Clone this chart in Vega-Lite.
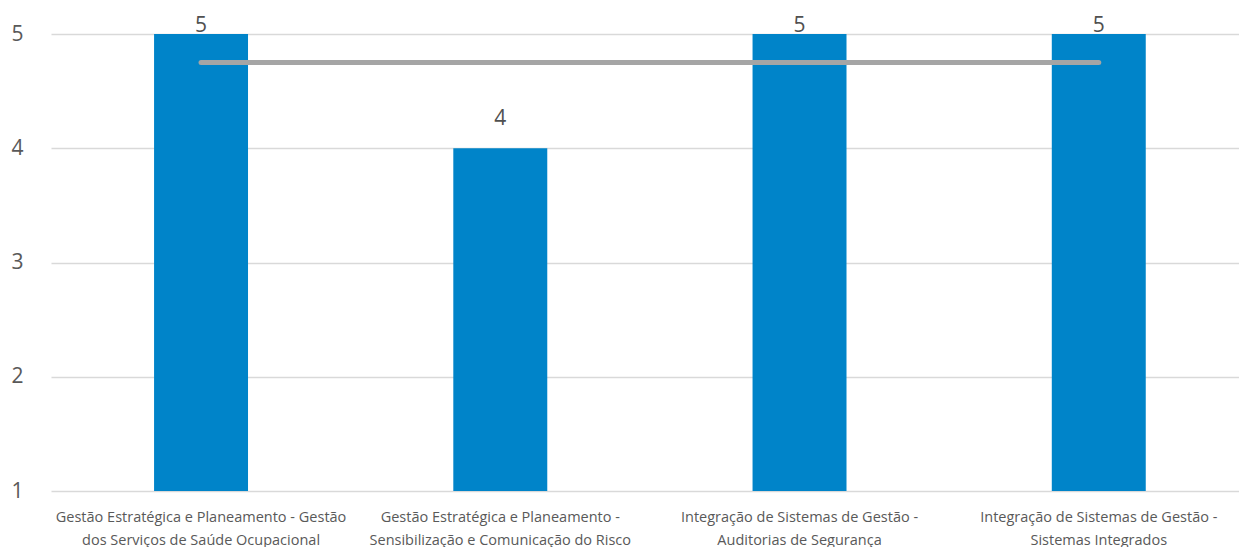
{
  "$schema": "https://vega.github.io/schema/vega-lite/v6.json",
  "width": 1188,
  "height": 457,
  "autosize": {"type": "none"},
  "padding": {"left": 51, "top": 34, "right": 0, "bottom": 56},
  "background": "white",
  "config": {
    "view": {"stroke": null},
    "font": "Open Sans",
    "text": {"font": "Open Sans"}
  },
  "data": {
    "values": [
      {"cat": "Gestão Estratégica e Planeamento - Gestão|dos Serviços de Saúde Ocupacional", "score": 5, "average": 4.75},
      {"cat": "Gestão Estratégica e Planeamento -|Sensibilização e Comunicação do Risco", "score": 4, "average": 4.75},
      {"cat": "Integração de Sistemas de Gestão -|Auditorias de Segurança", "score": 5, "average": 4.75},
      {"cat": "Integração de Sistemas de Gestão -|Sistemas Integrados", "score": 5, "average": 4.75}
    ]
  },
  "encoding": {
    "x": {
      "field": "cat",
      "type": "nominal",
      "sort": null,
      "scale": {"paddingInner": 0.686, "paddingOuter": 0.328, "align": 0.525},
      "axis": {
        "title": null,
        "labelAngle": 0,
        "labelExpr": "split(datum.label, '|')",
        "labelFont": "Open Sans",
        "labelFontSize": 14.5,
        "labelColor": "#595959",
        "labelLineHeight": 23,
        "labelPadding": 19,
        "ticks": false,
        "domain": false,
        "labelLimit": 400
      }
    }
  },
  "layer": [
    {
      "mark": {"type": "bar", "color": "#0084C9"},
      "encoding": {
        "y": {
          "field": "score",
          "type": "quantitative",
          "scale": {"domain": [1, 5], "nice": false, "zero": false},
          "axis": {
            "title": null,
            "values": [1, 2, 3, 4, 5],
            "format": "d",
            "labelFont": "Open Sans",
            "labelFontSize": 21,
            "labelColor": "#595959",
            "labelPadding": 28,
            "ticks": false,
            "domain": false,
            "grid": true,
            "gridColor": "#d9d9d9",
            "gridWidth": 1.5
          }
        },
        "y2": {"datum": 1}
      }
    },
    {
      "mark": {"type": "line", "color": "#a5a5a5", "strokeWidth": 5, "strokeCap": "round"},
      "encoding": {
        "y": {"field": "average", "type": "quantitative"}
      }
    },
    {
      "transform": [{"filter": "datum.score < 5"}],
      "mark": {"type": "text", "dy": -19, "baseline": "bottom", "fontSize": 21, "color": "#505050", "font": "Open Sans"},
      "encoding": {
        "y": {"field": "score", "type": "quantitative"},
        "text": {"field": "score", "type": "quantitative"}
      }
    },
    {
      "transform": [{"filter": "datum.score >= 5"}],
      "mark": {"type": "text", "dy": 2, "baseline": "bottom", "fontSize": 21, "color": "#505050", "font": "Open Sans"},
      "encoding": {
        "y": {"field": "score", "type": "quantitative"},
        "text": {"field": "score", "type": "quantitative"}
      }
    }
  ]
}
